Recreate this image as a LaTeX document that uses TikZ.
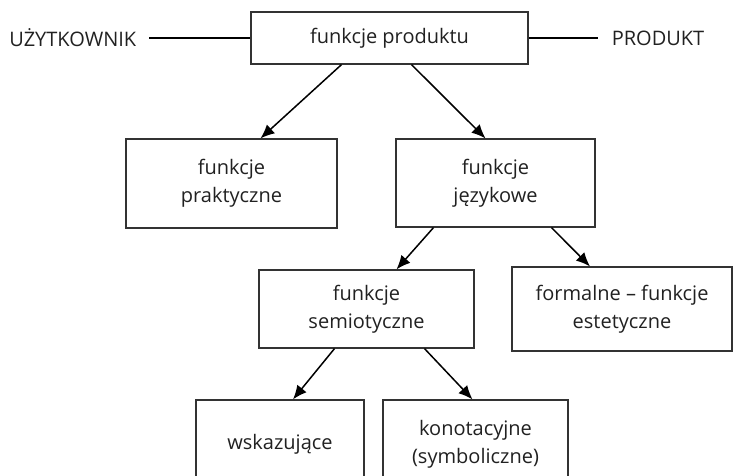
\documentclass[tikz,border=0pt]{standalone}
\usepackage{fontspec}
\setmainfont{Open Sans}
\usepackage{xcolor}
\usepackage{tikz}
\usetikzlibrary{arrows.meta,positioning}
\definecolor{txt}{rgb}{0.13,0.13,0.13}
\definecolor{frame}{rgb}{0.2,0.2,0.2}

\begin{document}
\begin{tikzpicture}[
  x=1pt,y=-1pt,
  font=\fontsize{20}{28}\selectfont,
  box/.style={draw=frame,line width=1.2pt,align=center,inner sep=0pt,text=txt},
  lab/.style={inner sep=0pt,text=txt},
  ln/.style={line width=1.5pt},
  ar/.style={ln,-{Latex[length=14pt,width=12pt]}}]

\useasboundingbox (0,0) rectangle (733,476);
\clip (0,0) rectangle (733,476);

\node[box,minimum width=277pt,minimum height=52pt] (fp) at (389.5,38) {funkcje produktu};
\node[lab,left=114pt of fp] (uz) {UŻYTKOWNIK};
\node[lab,right=83pt of fp] (pr) {PRODUKT};

\node[box,minimum width=211pt,minimum height=89pt] (fpr) at (231.5,183.5)
  {funkcje\\praktyczne};
\node[box,minimum width=199pt,minimum height=88pt] (fj) at (495.5,183)
  {funkcje\\językowe};
\node[box,minimum width=215pt,minimum height=78pt] (fs) at (366.5,309)
  {funkcje\\semiotyczne};
\node[box,minimum width=220pt,minimum height=84pt] (fe) at (622,309)
  {formalne – funkcje\\estetyczne};
\node[box,minimum width=168pt,minimum height=88pt] (wsk) at (280,444)
  {wskazujące};
\node[box,minimum width=185pt,minimum height=88pt] (kon) at (475.5,444)
  {konotacyjne\\(symboliczne)};

\draw[ln,shorten <=13pt] (uz.east) -- (fp.west);
\draw[ln,shorten >=14pt] (fp.east) -- (pr.west);

\draw[ar] ([xshift=-48pt]fp.south) -- ([xshift=29pt]fpr.north);
\draw[ar] ([xshift=22pt]fp.south) -- ([xshift=-10pt]fj.north);
\draw[ar] ([xshift=-62pt]fj.south) -- ([xshift=30pt]fs.north);
\draw[ar] ([xshift=56pt]fj.south) -- ([xshift=-32pt]fe.north);
\draw[ar] ([xshift=-32pt]fs.south) -- ([xshift=13pt]wsk.north);
\draw[ar] ([xshift=58pt]fs.south) -- ([xshift=-3pt]kon.north);
\end{tikzpicture}
\end{document}
